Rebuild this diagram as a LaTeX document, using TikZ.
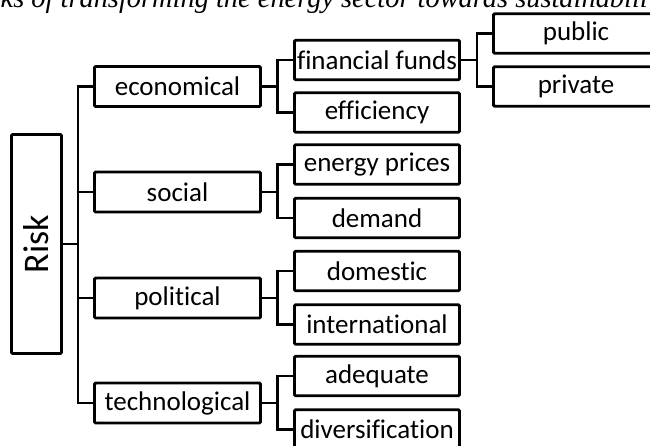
\documentclass[tikz,border=0pt]{standalone}
\usepackage{fontspec}
\setmainfont{Liberation Serif}
\newfontfamily\boxfont{Carlito}[Ligatures=NoCommon]
\begin{document}
\begin{tikzpicture}[x=1pt,y=-1pt,
  box/.style={draw, line width=2.9pt, rounded corners=1.2pt, inner sep=0pt,
    minimum width=165pt, minimum height=39.5pt, font=\boxfont\fontsize{27}{31}\selectfont},
  lvlone/.style={box, minimum width=166pt, minimum height=40pt},
  conn/.style={line width=2.7pt, line join=miter}]
\useasboundingbox (0,0) rectangle (650,445);
\clip (0,0) rectangle (650,445);
% caption (cut at the top)
\node[anchor=base west, inner sep=0pt, font=\itshape\fontsize{28.4}{32}\selectfont] (cap) at (0.5,7.3) {ks of transforming the energy sector towards sustainabili};
% root
\node[draw, line width=2.9pt, rounded corners=1.2pt, inner sep=0pt,
  minimum width=50pt, minimum height=219pt] (risk) at (36.5,244) {};
\node[rotate=90, font=\boxfont\fontsize{36}{40}\selectfont, inner sep=0pt] (risklbl) at (risk.center) {Risk};
% level 1
\node[lvlone] (eco) at (177.5,86.5) {economical};
\node[lvlone] (soc) at (177.5,192) {social};
\node[lvlone] (pol) at (177.5,298) {political};
\node[lvlone] (tec) at (177.5,403) {technological};
% level 2
\node[box] (ff)  at (377,60)    {financial funds};
\node[box] (eff) at (377,112.5) {efficiency};
\node[box] (ep)  at (377,164.5) {energy prices};
\node[box] (dem) at (377,218)   {demand};
\node[box] (dom) at (377,271)   {domestic};
\node[box] (int) at (377,324.5) {international};
\node[box] (ade) at (377,376)   {adequate};
\node[box] (div) at (377,429.5) {diversification};
% level 3
\node[box] (pub) at (576,33.5) {public};
\node[box] (pri) at (576,86.5) {private};
% trunk
\coordinate (t) at (78,244);
\draw[conn] (risk.east) -- (t);
\draw[conn] (eco.west) -| (t) |- (tec.west);
\draw[conn] (soc.west) -- (soc.west -| t);
\draw[conn] (pol.west) -- (pol.west -| t);
% level-2 branches
\foreach \p/\a/\b in {eco/ff/eff, soc/ep/dem, pol/dom/int, tec/ade/div}{
  \coordinate (b\p) at ([xshift=15.5pt]\p.east);
  \draw[conn] (\p.east) -- (b\p);
  \draw[conn] (\a.west) -| (b\p) |- (\b.west);
}
% level-3 branch
\coordinate (bff) at ([xshift=16pt]ff.east);
\draw[conn] (ff.east) -- (bff);
\draw[conn] (pub.west) -| (bff) |- (pri.west);
\end{tikzpicture}
\end{document}
